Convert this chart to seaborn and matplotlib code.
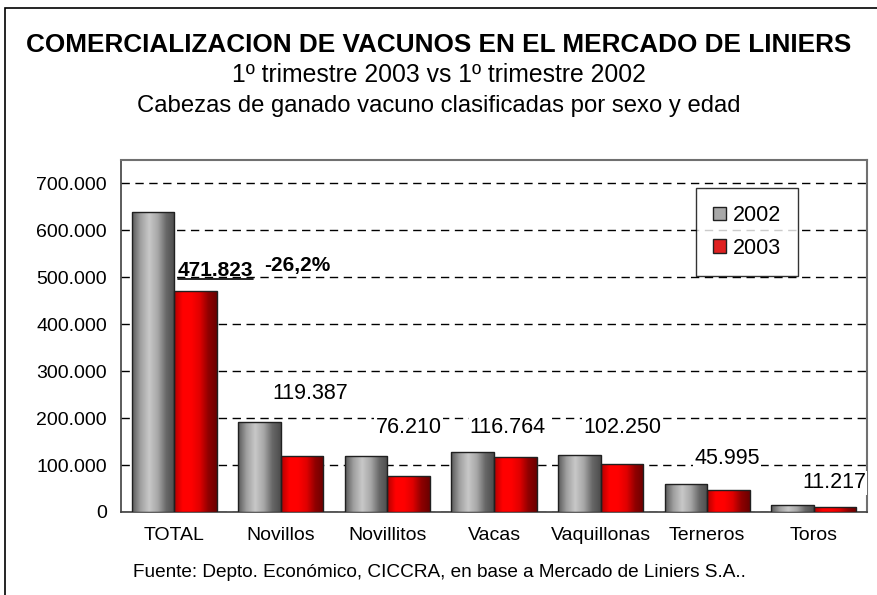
import numpy as np
import pandas as pd
import matplotlib
matplotlib.use('Agg')
import matplotlib.pyplot as plt
from matplotlib.colors import LinearSegmentedColormap
from matplotlib.patches import Rectangle
from matplotlib.lines import Line2D
import seaborn as sns

# data
categorias = ['TOTAL', 'Novillos', 'Novillitos', 'Vacas', 'Vaquillonas', 'Terneros', 'Toros']
anios = ['2002', '2003']
cabezas_2002 = [639000, 192000, 120000, 128000, 121000, 60000, 14000]
cabezas_2003 = [471823, 119387, 76210, 116764, 102250, 45995, 11217]
variacion_total = '-26,2%'

df = pd.DataFrame({
    'Categoria': categorias * 2,
    'Anio': ['2002'] * len(categorias) + ['2003'] * len(categorias),
    'Cabezas': cabezas_2002 + cabezas_2003,
})

sns.set_style('white')
plt.rcParams['font.family'] = ['Liberation Sans', 'DejaVu Sans']
plt.rcParams['text.color'] = 'black'
plt.rcParams['xtick.color'] = 'black'
plt.rcParams['ytick.color'] = 'black'
plt.rcParams['axes.labelcolor'] = 'black'

fig = plt.figure(figsize=(8.78, 5.95), dpi=100)
ax = fig.add_axes([0.1378, 0.1395, 0.8497, 0.5916])

sns.barplot(data=df, x='Categoria', y='Cabezas', hue='Anio', order=categorias,
            hue_order=anios, palette={'2002': '#a8a8a8', '2003': '#ff0000'},
            edgecolor='#202020', linewidth=1.0, width=0.8, ax=ax, zorder=3)

ax.set_xlim(-0.5, len(categorias) - 0.5)
ax.set_ylim(0, 750000)

# cylinder-like shading on the bars
grad = {
    '2002': LinearSegmentedColormap.from_list('g', ['#585858', '#a0a0a0', '#c8c8c8', '#a8a8a8', '#686868', '#4c4c4c']),
    '2003': LinearSegmentedColormap.from_list('r', ['#b00000', '#ff0000', '#ff0000', '#e00000', '#900000', '#6a0000']),
}
xl, yl = ax.get_xlim(), ax.get_ylim()
for anio, cont in zip(anios, ax.containers):
    for p in cont.patches:
        x0, y0 = p.get_x(), p.get_y()
        w, h = p.get_width(), p.get_height()
        im = ax.imshow(np.linspace(0, 1, 256).reshape(1, -1), cmap=grad[anio],
                       extent=[x0, x0 + w, y0, y0 + h], aspect='auto', zorder=3.5)
        im.set_clip_path(p)
        p.set_facecolor('none')
        p.set_zorder(4)
ax.set_xlim(xl)
ax.set_ylim(yl)

# axes styling
ax.set_xlabel('')
ax.set_ylabel('')
ax.set_yticks(range(0, 700001, 100000))
ax.set_yticklabels(['0'] + [f'{v:,}'.replace(',', '.') for v in range(100000, 700001, 100000)])
ax.yaxis.grid(True, linestyle=(0, (6, 4)), color='black', linewidth=1.0, zorder=1)
ax.set_axisbelow(True)
ax.set_xticks(range(len(categorias)))
ax.set_xticklabels(categorias)
ax.set_xticks(np.arange(-0.5, len(categorias), 1.0), minor=True)
ax.tick_params(axis='x', which='major', length=0, pad=11, labelsize=14)
ax.tick_params(axis='x', which='minor', length=6, width=1, color='#404040', direction='out')
ax.tick_params(axis='y', length=6, width=1, color='#404040', direction='out', labelsize=14, pad=4)
for s in ['left', 'bottom']:
    ax.spines[s].set_color('#404040')
    ax.spines[s].set_linewidth(1.2)
for s in ['top', 'right']:
    ax.spines[s].set_color('#707070')
    ax.spines[s].set_linewidth(1.5)

# value labels
pos_labels = [(0.385, 515000), (1.28, 253000), (2.2, 181000), (3.13, 181000),
              (4.2, 179000), (5.19, 113000), (6.19, 62000)]
txt_total = None
for i, (v, (px, py)) in enumerate(zip(cabezas_2003, pos_labels)):
    s = f'{v:,}'.replace(',', '.')
    if i == 0:
        txt_total = ax.text(px, py, s, ha='center', va='center', fontsize=15,
                            fontweight='bold', zorder=6)
    else:
        ax.text(px, py, s, ha='center', va='center', fontsize=15.5, zorder=6,
                bbox=dict(facecolor='white', edgecolor='none', pad=1))
ax.text(1.15, 525000, variacion_total, ha='center', va='center', fontsize=15,
        fontweight='bold', zorder=6)

# legend
leg = ax.legend(loc='upper right', bbox_to_anchor=(0.9075, 0.921), frameon=True,
                fontsize=15.5, handlelength=0.6, handleheight=0.6, handletextpad=0.3,
                labelspacing=0.55, borderpad=0.8, borderaxespad=0, fancybox=False)
leg.get_frame().set_edgecolor('black')
leg.get_frame().set_linewidth(1.0)
leg.set_zorder(7)

# titles and footer
fig.text(0.5, 0.925, 'COMERCIALIZACION DE VACUNOS EN EL MERCADO DE LINIERS',
         ha='center', va='center', fontsize=18.8, fontweight='bold')
fig.text(0.5, 0.874, '1º trimestre 2003 vs 1º trimestre 2002', ha='center', va='center', fontsize=17.8)
fig.text(0.5, 0.822, 'Cabezas de ganado vacuno clasificadas por sexo y edad', ha='center',
         va='center', fontsize=17.2)
fig.text(0.5, 0.037, 'Fuente: Depto. Económico, CICCRA, en base a Mercado de Liniers S.A..',
         ha='center', va='center', fontsize=13.7)

# outer frame
fig.add_artist(Rectangle((5 / 878, -0.05), 1.2, 1 - 8 / 595 + 0.05, transform=fig.transFigure,
                         fill=False, edgecolor='black', linewidth=1.2, clip_on=False))

# underline under the total label
fig.canvas.draw()
bb = txt_total.get_window_extent(renderer=fig.canvas.get_renderer())
inv = fig.transFigure.inverted()
(x0, y0), (x1, _) = inv.transform([(bb.x0, bb.y0 + 1), (bb.x1, bb.y0 + 1)])
fig.add_artist(Line2D([x0, x1], [y0, y0], transform=fig.transFigure, color='black', linewidth=1.2))

fig.savefig('out.png', dpi=100)
